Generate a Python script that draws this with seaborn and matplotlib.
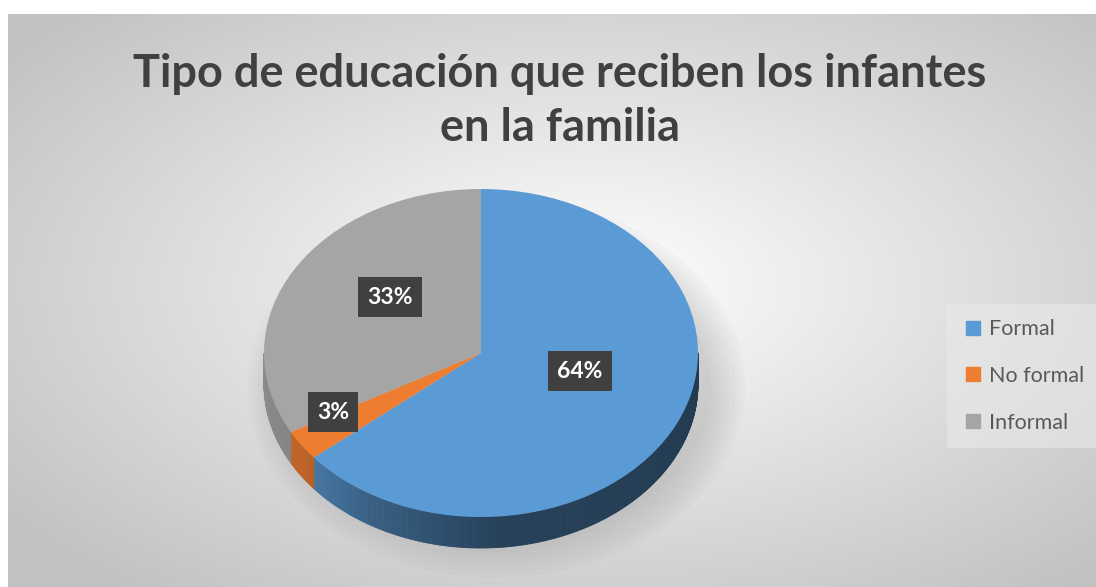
import numpy as np
import matplotlib
matplotlib.use('Agg')
import matplotlib.pyplot as plt
import matplotlib.colors as mcolors
import seaborn as sns
from matplotlib.patches import Polygon, Ellipse
from matplotlib.lines import Line2D

# ---- data ----
categories = ['Formal', 'No formal', 'Informal']
values = [64, 3, 33]
colors = ['#5B9BD5', '#ED7D31', '#A5A5A5']
title = 'Tipo de educación que reciben los infantes\nen la familia'

sns.set_theme(style='white')
plt.rcParams['font.family'] = ['Lato', 'DejaVu Sans']

W, H = 1096, 587
fig = plt.figure(figsize=(W / 100, H / 100), dpi=100)
fig.patch.set_facecolor('white')

# ---- background radial gradient (chart area) ----
bg = fig.add_axes([0, 0, 1, 1])
bg.set_xlim(0, W)
bg.set_ylim(H, 0)
bg.axis('off')
yy, xx = np.mgrid[14:H, 8:W].astype(float)
cx, cy = 590, 285
r = np.sqrt(((xx - cx) / 600) ** 2 + ((yy - cy) / 320) ** 2)
v = 255 - 62 * np.clip(r / 1.24, 0, 1)
img = np.dstack([v, v, v]) / 255.0
bg.imshow(img, extent=(8, W, H, 14), aspect='auto', interpolation='bilinear')

# ---- pie axes (3D-like) ----
cxp, cyp = 481, 353
rx, ry = 217, 164
depth = 31
d = depth / ry
ax = fig.add_axes([(cxp - rx) / W, 1 - (cyp + ry + depth) / H,
                   2 * rx / W, (2 * ry + depth) / H])

wedges, texts, autotexts = ax.pie(
    values, colors=colors, startangle=90, counterclock=False,
    autopct='%1.0f%%', pctdistance=0.55,
    wedgeprops=dict(linewidth=0, zorder=3),
    textprops=dict(color='white', fontsize=16.5, fontweight='bold'))
ax.set_aspect('auto')
ax.set_xlim(-1, 1)
ax.set_ylim(-1 - d, 1)
ax.axis('off')

# soft shadow (offset toward lower right)
for k in range(8):
    e = Ellipse((0.07, -d - 0.02), 1.98 + 0.045 * k, 1.9 + 0.06 * k,
                facecolor='#7a7a7a', alpha=0.035, edgecolor='none', zorder=0)
    e.set_clip_on(False)
    ax.add_patch(e)

def shade(theta):
    return np.interp(theta, [180, 215, 240, 275, 360],
                     [0.85, 0.80, 0.62, 0.42, 0.38])

for w, c in zip(wedges, colors):
    base = np.array(mcolors.to_rgb(c))
    t1, t2 = w.theta1, w.theta2
    a = t1
    while a < t2:
        b = min(a + 0.5, t2)
        m = ((a + b) / 2) % 360
        if 180 <= m <= 360:
            ra, rb = np.radians(a), np.radians(b)
            pts = [(np.cos(ra), np.sin(ra)), (np.cos(rb), np.sin(rb)),
                   (np.cos(rb), np.sin(rb) - d), (np.cos(ra), np.sin(ra) - d)]
            col = np.clip(base * shade(m), 0, 1)
            p = Polygon(pts, closed=True, facecolor=col, edgecolor=col,
                        linewidth=0.6, zorder=2)
            p.set_clip_on(False)
            ax.add_patch(p)
        a = b

# data labels
label_pos = [(0.456, -0.110), (-0.682, -0.360), (-0.419, 0.341)]
for t, pos in zip(autotexts, label_pos):
    t.set_position(pos)
    t.set_zorder(6)
    t.set_bbox(dict(boxstyle='square,pad=0.4', facecolor='#404040',
                    edgecolor='none'))

# ---- title ----
fig.text(560 / W, 1 - 101 / H, title, ha='center', va='center',
         fontsize=32.5, fontweight='bold', color='#404040', linespacing=1.38)

# ---- legend ----
handles = [Line2D([], [], marker='s', linestyle='', color=c, markersize=10)
           for c in colors]
leg = fig.legend(handles, categories, loc='center left',
                 bbox_to_anchor=(936 / W, 1 - 376 / H), frameon=True,
                 facecolor='#e9e9e9', edgecolor='none', framealpha=0.6,
                 fontsize=15.5, labelcolor='#595959', handletextpad=0.25,
                 labelspacing=1.25, handlelength=1.0, borderpad=0.7,
                 fancybox=False)

fig.savefig('out.png', dpi=100)
